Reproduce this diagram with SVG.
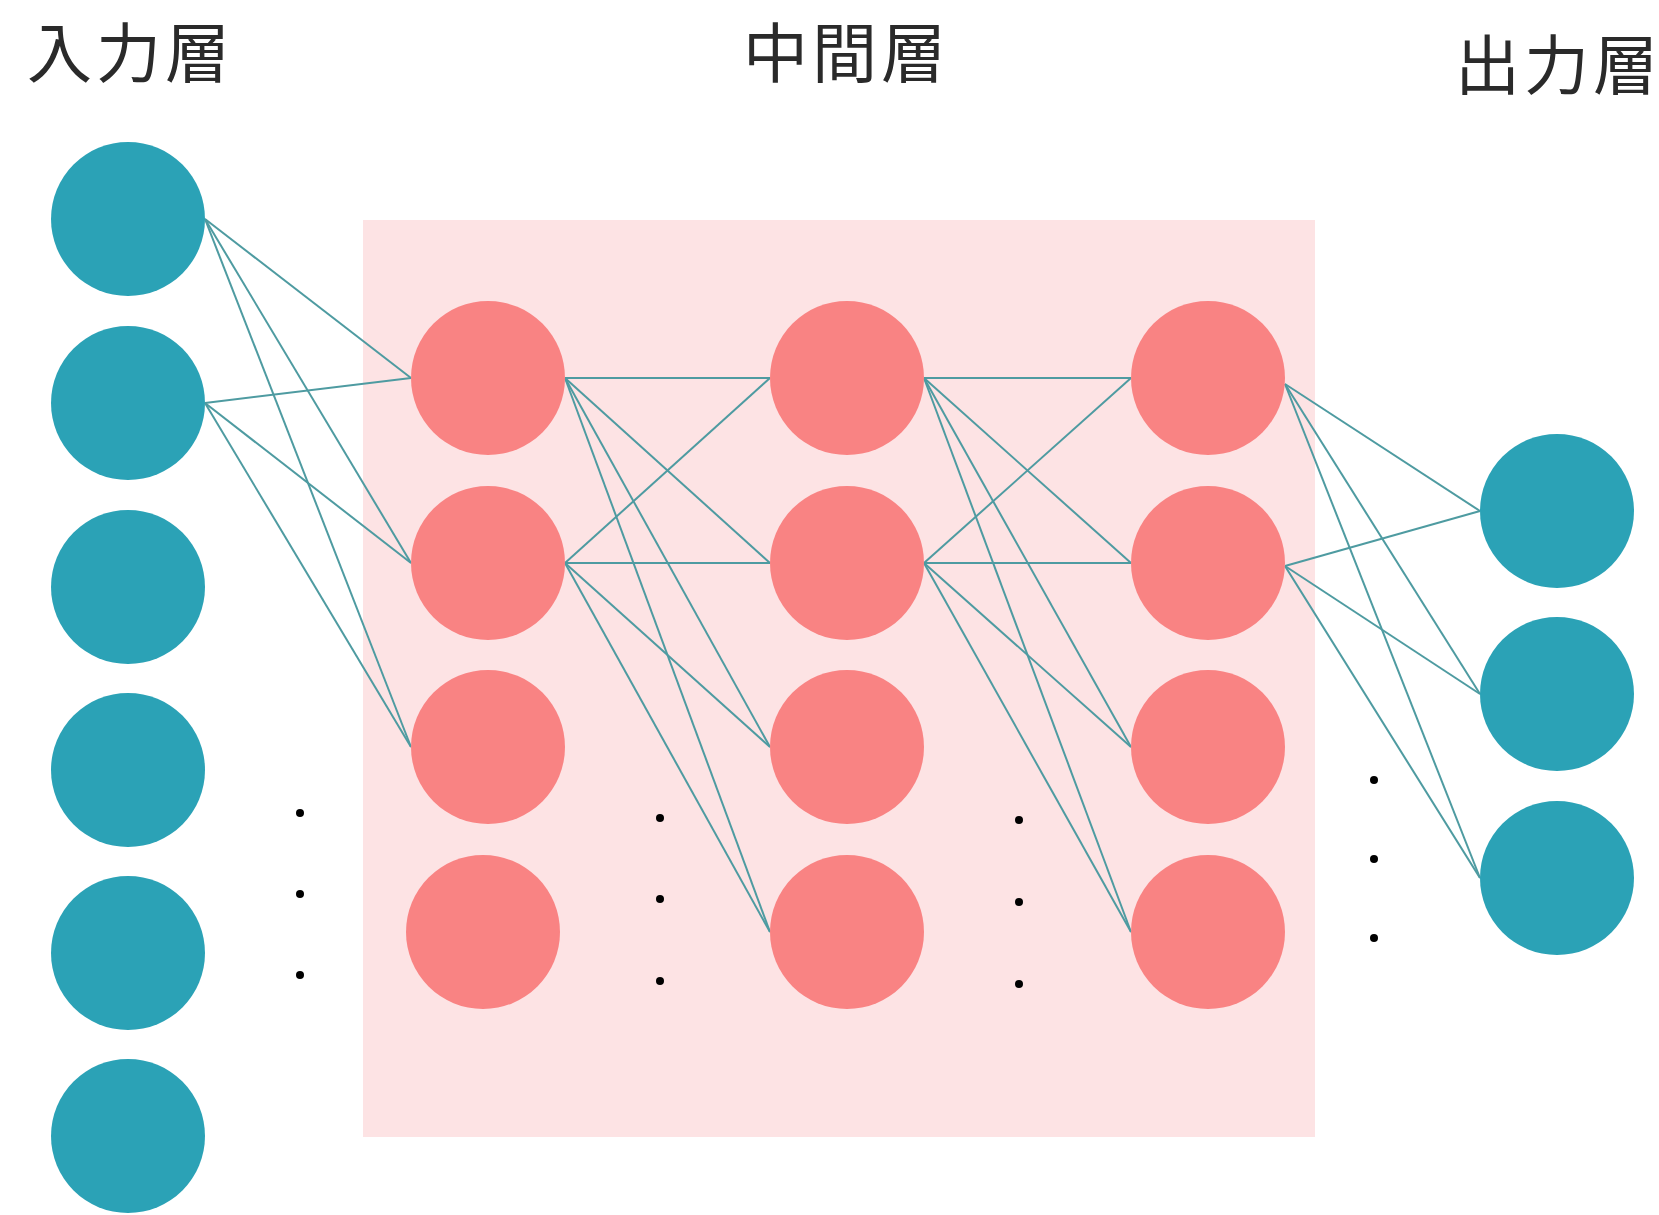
<svg xmlns="http://www.w3.org/2000/svg" width="1659" height="1215" viewBox="0 0 1659 1215">
<style>
.teal{fill:#2ba2b6}
.pink{fill:#f98383}
.lbl{font-family:"Noto Sans CJK JP","Noto Sans CJK SC",sans-serif;font-size:65px;letter-spacing:4px;fill:#2a2a2a}
.conn line{stroke:#4e9ba1;stroke-width:2}
.dot{fill:#000}
</style>
<rect width="1659" height="1215" fill="#ffffff"/>
<rect id="hidden-area" x="363" y="220" width="952" height="917" fill="#fde3e4"/>
<text class="lbl" x="27" y="77">入力層</text>
<text class="lbl" x="743" y="77">中間層</text>
<text class="lbl" x="1455" y="89">出力層</text>
<g id="connectors" class="conn">
<line x1="205" y1="219" x2="411" y2="378"/>
<line x1="205" y1="219" x2="411" y2="563"/>
<line x1="205" y1="219" x2="411" y2="747"/>
<line x1="205" y1="403" x2="411" y2="378"/>
<line x1="205" y1="403" x2="411" y2="563"/>
<line x1="205" y1="403" x2="411" y2="747"/>
<line x1="565" y1="378" x2="770" y2="378"/>
<line x1="565" y1="378" x2="770" y2="563"/>
<line x1="565" y1="378" x2="770" y2="747"/>
<line x1="565" y1="378" x2="770" y2="932"/>
<line x1="565" y1="563" x2="770" y2="378"/>
<line x1="565" y1="563" x2="770" y2="563"/>
<line x1="565" y1="563" x2="770" y2="747"/>
<line x1="565" y1="563" x2="770" y2="932"/>
<line x1="924" y1="378" x2="1131" y2="378"/>
<line x1="924" y1="378" x2="1131" y2="563"/>
<line x1="924" y1="378" x2="1131" y2="747"/>
<line x1="924" y1="378" x2="1131" y2="932"/>
<line x1="924" y1="563" x2="1131" y2="378"/>
<line x1="924" y1="563" x2="1131" y2="563"/>
<line x1="924" y1="563" x2="1131" y2="747"/>
<line x1="924" y1="563" x2="1131" y2="932"/>
<line x1="1285" y1="384" x2="1480" y2="511"/>
<line x1="1285" y1="384" x2="1480" y2="694"/>
<line x1="1285" y1="384" x2="1480" y2="878"/>
<line x1="1285" y1="566" x2="1480" y2="511"/>
<line x1="1285" y1="566" x2="1480" y2="694"/>
<line x1="1285" y1="566" x2="1480" y2="878"/>
</g>
<g id="input-1"><circle class="teal" cx="128" cy="219" r="77"/></g>
<g id="input-2"><circle class="teal" cx="128" cy="403" r="77"/></g>
<g id="input-3"><circle class="teal" cx="128" cy="587" r="77"/></g>
<g id="input-4"><circle class="teal" cx="128" cy="770" r="77"/></g>
<g id="input-5"><circle class="teal" cx="128" cy="953" r="77"/></g>
<g id="input-6"><circle class="teal" cx="128" cy="1136" r="77"/></g>
<g id="mid1-1"><circle class="pink" cx="488" cy="378" r="77"/></g>
<g id="mid1-2"><circle class="pink" cx="488" cy="563" r="77"/></g>
<g id="mid1-3"><circle class="pink" cx="488" cy="747" r="77"/></g>
<g id="mid1-4"><circle class="pink" cx="483" cy="932" r="77"/></g>
<g id="mid2-1"><circle class="pink" cx="847" cy="378" r="77"/></g>
<g id="mid2-2"><circle class="pink" cx="847" cy="563" r="77"/></g>
<g id="mid2-3"><circle class="pink" cx="847" cy="747" r="77"/></g>
<g id="mid2-4"><circle class="pink" cx="847" cy="932" r="77"/></g>
<g id="mid3-1"><circle class="pink" cx="1208" cy="378" r="77"/></g>
<g id="mid3-2"><circle class="pink" cx="1208" cy="563" r="77"/></g>
<g id="mid3-3"><circle class="pink" cx="1208" cy="747" r="77"/></g>
<g id="mid3-4"><circle class="pink" cx="1208" cy="932" r="77"/></g>
<g id="output-1"><circle class="teal" cx="1557" cy="511" r="77"/></g>
<g id="output-2"><circle class="teal" cx="1557" cy="694" r="77"/></g>
<g id="output-3"><circle class="teal" cx="1557" cy="878" r="77"/></g>
<g id="ellipses">
<circle class="dot" cx="300" cy="813" r="4"/>
<circle class="dot" cx="300" cy="894" r="4"/>
<circle class="dot" cx="300" cy="975" r="4"/>
<circle class="dot" cx="660" cy="818" r="4"/>
<circle class="dot" cx="660" cy="899" r="4"/>
<circle class="dot" cx="660" cy="981" r="4"/>
<circle class="dot" cx="1019" cy="820" r="4"/>
<circle class="dot" cx="1019" cy="902" r="4"/>
<circle class="dot" cx="1019" cy="984" r="4"/>
<circle class="dot" cx="1374" cy="780" r="4"/>
<circle class="dot" cx="1374" cy="859" r="4"/>
<circle class="dot" cx="1374" cy="938" r="4"/>
</g>
</svg>
